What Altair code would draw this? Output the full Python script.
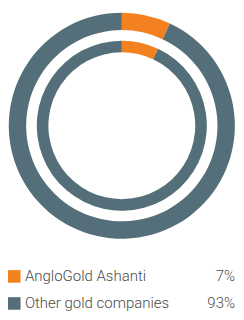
import altair as alt
import pandas as pd

companies = ["AngloGold Ashanti", "Other gold companies"]
outer_share = [7, 93]
inner_share = [7, 93]
share_labels = ["7%", "93%"]
colors = ["#F48120", "#546F79"]

df = pd.DataFrame({
    "company": companies,
    "outer": outer_share,
    "inner": inner_share,
    "label": share_labels,
    "idx": list(range(len(companies))),
})

color = alt.Color("company:N", scale=alt.Scale(domain=companies, range=colors), legend=None)
order = alt.Order("idx:Q", sort="ascending")
cx, cy = 117.8, 116.5

base = alt.Chart(df)

outer = base.mark_arc(radius=117, radius2=99).encode(
    theta=alt.Theta("outer:Q", stack=True), color=color, order=order,
    x=alt.value(cx), y=alt.value(cy))
inner = base.mark_arc(radius=88, radius2=76).encode(
    theta=alt.Theta("inner:Q", stack=True), color=color, order=order,
    x=alt.value(cx), y=alt.value(cy))

rowy = alt.Y("company:N", scale=alt.Scale(domain=companies, type="point", padding=0,
                                          range=[272.5, 300.5]), axis=None)

swatch = base.mark_square(size=169, opacity=1).encode(
    x=alt.value(6.5), y=rowy, color=color)
names = base.mark_text(align="left", baseline="middle", font="Roboto", fontWeight=300,
                       fontSize=15.5, color="#4a4a4a").encode(
    x=alt.value(17.5), y=rowy, text="company:N")
pcts = base.mark_text(align="right", baseline="middle", font="Roboto", fontWeight=300,
                      fontSize=15.5, color="#4a4a4a").encode(
    x=alt.value(235), y=rowy, text="label:N")

chart = alt.layer(outer, inner, swatch, names, pcts).properties(
    width=236, height=304, padding=0,
    autosize=alt.AutoSizeParams(type="none"),
).configure_view(stroke=None)

chart.save("out.html", embed_options={"renderer": "svg", "actions": False})
